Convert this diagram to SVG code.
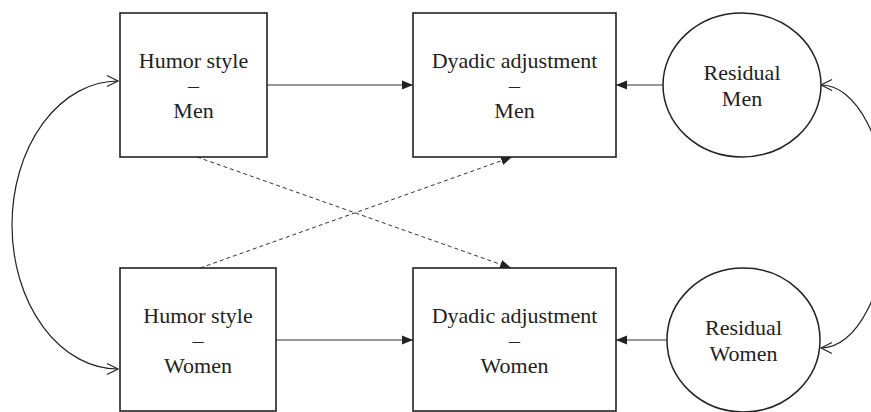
<svg xmlns="http://www.w3.org/2000/svg" width="871" height="412" viewBox="0 0 871 412">
<style>
  .box { fill: #fff; stroke: #222; stroke-width: 1.6; }
  .ell { fill: #fff; stroke: #222; stroke-width: 1.5; }
  .lbl { font-family: "Liberation Serif", "Times New Roman", serif; font-size: 22px; fill: #222; text-anchor: middle; }
  .solid { fill: none; stroke: #333; stroke-width: 1.2; marker-end: url(#fill); }
  .dash { fill: none; stroke: #333; stroke-width: 1; stroke-dasharray: 4 3; marker-end: url(#fill); }
  .curve { fill: none; stroke: #222; stroke-width: 1.2; marker-start: url(#openS); marker-end: url(#open); }
</style>
<defs>
  <marker id="fill" markerUnits="userSpaceOnUse" markerWidth="12" markerHeight="10" refX="11" refY="5" orient="auto">
    <path d="M0,0.5 L11,5 L0,9.5 z" fill="#222"/>
  </marker>
  <marker id="open" markerUnits="userSpaceOnUse" markerWidth="14" markerHeight="14" refX="12" refY="7" orient="auto">
    <path d="M1,1.5 L12,7 L1,12.5" fill="none" stroke="#222" stroke-width="1.2"/>
  </marker>
  <marker id="openS" markerUnits="userSpaceOnUse" markerWidth="14" markerHeight="14" refX="2" refY="7" orient="auto">
    <path d="M13,1.5 L2,7 L13,12.5" fill="none" stroke="#222" stroke-width="1.2"/>
  </marker>
</defs>

<g id="connectors">
  <line class="solid" x1="267" y1="85" x2="413" y2="85"/>
  <line class="solid" x1="663" y1="85" x2="616" y2="85"/>
  <line class="solid" x1="276" y1="340" x2="413" y2="340"/>
  <line class="solid" x1="667" y1="340" x2="616" y2="340"/>
  <line class="dash" x1="197" y1="157" x2="511" y2="268"/>
  <line class="dash" x1="200" y1="268" x2="512" y2="157"/>
  <path class="curve" d="M118,81 A106,144 0 0 0 118,369"/>
  <path class="curve" d="M821,85 A66,131.5 0 0 1 821,348"/>
</g>

<g id="humor-men">
  <rect class="box" x="120" y="13" width="147" height="144"/>
  <text class="lbl" x="193.5" y="68">Humor style</text>
  <text class="lbl" x="193.5" y="93">–</text>
  <text class="lbl" x="193.5" y="118">Men</text>
</g>

<g id="dyadic-men">
  <rect class="box" x="413" y="13" width="203" height="144"/>
  <text class="lbl" x="514.5" y="68">Dyadic adjustment</text>
  <text class="lbl" x="514.5" y="93">–</text>
  <text class="lbl" x="514.5" y="118">Men</text>
</g>

<g id="residual-men">
  <ellipse class="ell" cx="742" cy="85" rx="79" ry="72"/>
  <text class="lbl" x="742" y="80">Residual</text>
  <text class="lbl" x="742" y="106">Men</text>
</g>

<g id="humor-women">
  <rect class="box" x="120" y="268" width="156" height="143"/>
  <text class="lbl" x="198" y="323">Humor style</text>
  <text class="lbl" x="198" y="348">–</text>
  <text class="lbl" x="198" y="373">Women</text>
</g>

<g id="dyadic-women">
  <rect class="box" x="413" y="268" width="203" height="143"/>
  <text class="lbl" x="514.5" y="323">Dyadic adjustment</text>
  <text class="lbl" x="514.5" y="348">–</text>
  <text class="lbl" x="514.5" y="373">Women</text>
</g>

<g id="residual-women">
  <ellipse class="ell" cx="743.5" cy="340" rx="76.5" ry="72"/>
  <text class="lbl" x="743.5" y="335">Residual</text>
  <text class="lbl" x="743.5" y="361">Women</text>
</g>
</svg>
